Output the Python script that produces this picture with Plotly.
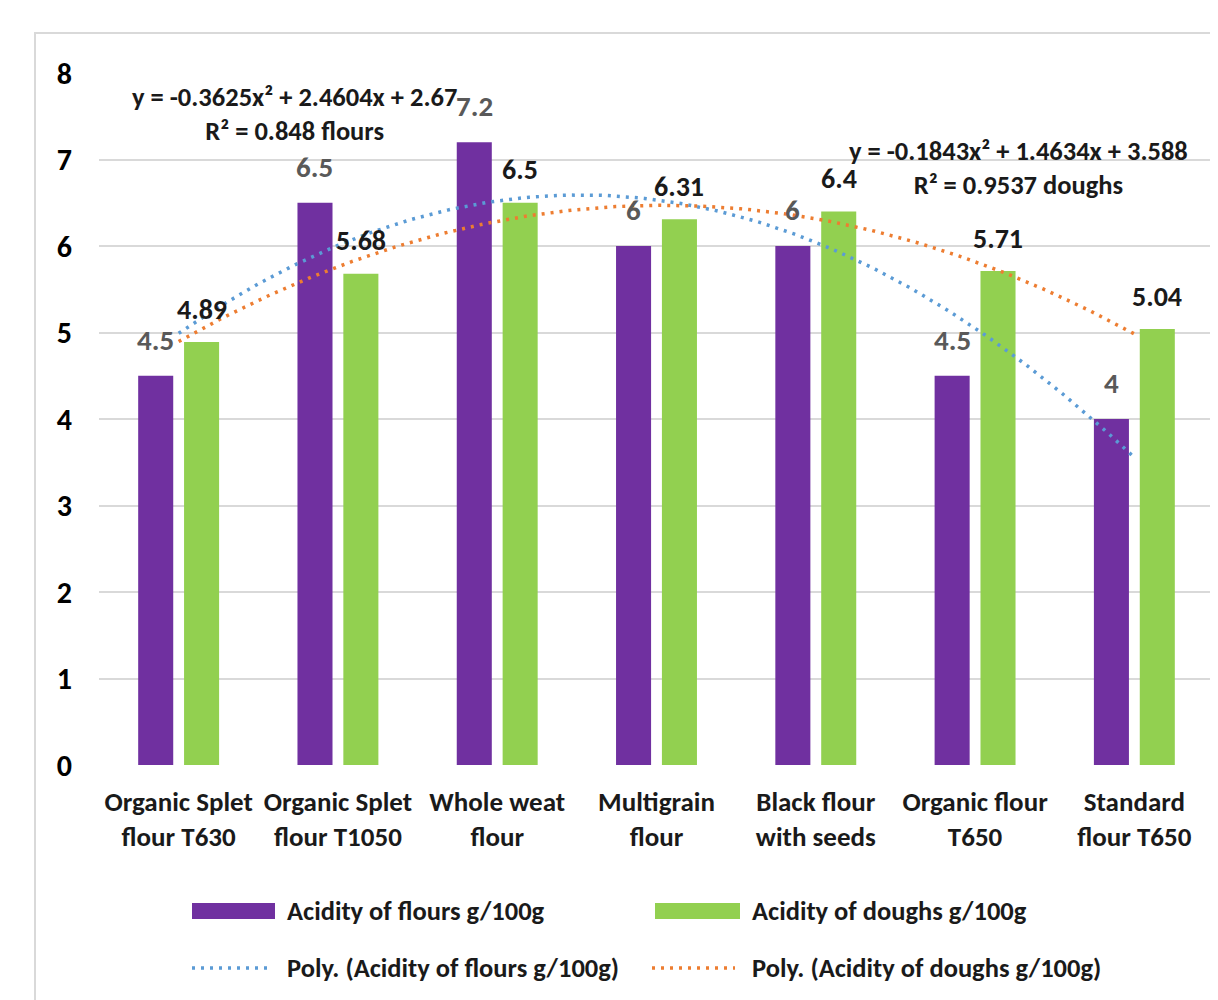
import numpy as np
import plotly.graph_objects as go

categories = ["Organic Splet<br>flour T630", "Organic Splet<br>flour T1050", "Whole weat<br>flour",
              "Multigrain<br>flour", "Black flour<br>with seeds", "Organic flour<br>T650", "Standard<br>flour T650"]
flours = [4.5, 6.5, 7.2, 6, 6, 4.5, 4]
doughs = [4.89, 5.68, 6.5, 6.31, 6.4, 5.71, 5.04]
flour_labels = ["4.5", "6.5", "7.2", "6", "6", "4.5", "4"]
dough_labels = ["4.89", "5.68", "6.5", "6.31", "6.4", "5.71", "5.04"]
y_ticks = [0, 1, 2, 3, 4, 5, 6, 7, 8]
eq_flours = "y = -0.3625x² + 2.4604x + 2.67<br>R² = 0.848 flours"
eq_doughs = "y = -0.1843x² + 1.4634x + 3.588<br>R² = 0.9537 doughs"

FONT = "Carlito, 'Liberation Sans Narrow', 'DejaVu Sans Condensed', 'Open Sans', sans-serif"
PURPLE = "#7030A0"
GREEN = "#92D050"
BLUE = "#5B9BD5"
ORANGE = "#ED7D31"
TXT = "#1a1a1a"

# page has an 8px body margin: the figure is sized/positioned to compensate
BODY = 8
W, H = 1218 - BODY, 1000 - BODY
ML, MR, MT, MB = 99 - BODY, 4, 73 - BODY, 235
PW, PH = W - ML - MR, H - MT - MB


def px(xp):
    return (xp - BODY - ML) / PW


def py(yp):
    return (H - MB - (yp - BODY)) / PH


x = np.arange(1, len(categories) + 1)
bw = 0.22
off_f, off_d = -0.254, 0.034

fig = go.Figure()
fig.add_trace(go.Bar(x=x, y=flours, width=bw, offset=off_f, marker=dict(color=PURPLE, line=dict(width=0)),
                     name="Acidity of flours g/100g", showlegend=False))
fig.add_trace(go.Bar(x=x, y=doughs, width=bw, offset=off_d, marker=dict(color=GREEN, line=dict(width=0)),
                     name="Acidity of doughs g/100g", showlegend=False))

# polynomial (order 2) trendlines fitted to the data
xs = np.linspace(1, len(categories), 200)
pf = np.polyfit(x, flours, 2)
pd_ = np.polyfit(x, doughs, 2)
fig.add_trace(go.Scatter(x=xs, y=np.polyval(pf, xs), mode="lines", line=dict(color=BLUE, width=3.5, dash="3px,6px"),
                         name="Poly. (Acidity of flours g/100g)", showlegend=False))
fig.add_trace(go.Scatter(x=xs, y=np.polyval(pd_, xs), mode="lines", line=dict(color=ORANGE, width=3.5, dash="3px,6px"),
                         name="Poly. (Acidity of doughs g/100g)", showlegend=False))

annotations = []
for i in range(len(categories)):
    annotations.append(dict(x=x[i] + off_f + bw / 2, y=flours[i], text=flour_labels[i], showarrow=False,
                            yanchor="middle", yshift=36,
                            font=dict(family=FONT, size=29, color="#595959", weight="bold")))
    annotations.append(dict(x=x[i] + off_d + bw / 2, y=doughs[i], text=dough_labels[i], showarrow=False,
                            yanchor="middle", yshift=33,
                            font=dict(family=FONT, size=28, color=TXT, weight="bold")))

# trendline equations
eq_font = dict(family=FONT, size=26.5, color=TXT, weight="bold")
annotations.append(dict(xref="paper", yref="paper", x=px(294), y=py(114), text=eq_flours,
                        showarrow=False, align="center", xanchor="center", yanchor="middle", font=eq_font))
annotations.append(dict(xref="paper", yref="paper", x=px(1018), y=py(168), text=eq_doughs,
                        showarrow=False, align="center", xanchor="center", yanchor="middle", font=eq_font))

shapes = []
# chart border
shapes.append(dict(type="rect", xref="paper", yref="paper", x0=px(35), x1=px(1260), y0=py(1040), y1=py(33),
                   line=dict(color="#D9D9D9", width=2), fillcolor="rgba(0,0,0,0)", layer="below"))

# custom legend
leg_font = dict(family=FONT, size=26.5, color=TXT, weight="bold")
shapes.append(dict(type="rect", xref="paper", yref="paper", x0=px(192), x1=px(275), y0=py(919), y1=py(903),
                   fillcolor=PURPLE, line=dict(width=0)))
shapes.append(dict(type="rect", xref="paper", yref="paper", x0=px(655), x1=px(740), y0=py(919), y1=py(903),
                   fillcolor=GREEN, line=dict(width=0)))
shapes.append(dict(type="line", xref="paper", yref="paper", x0=px(192), x1=px(272), y0=py(968), y1=py(968),
                   line=dict(color=BLUE, width=3.5, dash="3px,6px")))
shapes.append(dict(type="line", xref="paper", yref="paper", x0=px(652), x1=px(735), y0=py(968), y1=py(968),
                   line=dict(color=ORANGE, width=3.5, dash="3px,6px")))
for tx, ty, name in [(285, 911, fig.data[0].name), (750, 911, fig.data[1].name),
                     (285, 968, fig.data[2].name), (750, 968, fig.data[3].name)]:
    annotations.append(dict(xref="paper", yref="paper", x=px(tx), y=py(ty), text=name, showarrow=False,
                            xanchor="left", yanchor="middle", font=leg_font))

fig.update_layout(
    width=W, height=H,
    margin=dict(l=ML, r=MR, t=MT, b=MB),
    paper_bgcolor="white", plot_bgcolor="white",
    barmode="overlay",
    showlegend=False,
    annotations=annotations,
    shapes=shapes,
    font=dict(family=FONT, color=TXT),
)
fig.update_xaxes(range=[0.5, len(categories) + 0.5], tickmode="array", tickvals=x, ticktext=categories,
                 showgrid=False, zeroline=False, showline=False, ticks="",
                 tickfont=dict(family=FONT, size=27, color=TXT, weight="bold"), ticklabelstandoff=18)
fig.update_yaxes(range=[0, 8], tickmode="array", tickvals=y_ticks, showgrid=True, gridcolor="#D9D9D9", gridwidth=2,
                 zeroline=False, showline=False, ticks="",
                 tickfont=dict(family=FONT, size=30, color="#000000", weight="bold"), ticklabelstandoff=26)

fig.write_html("out.html")
